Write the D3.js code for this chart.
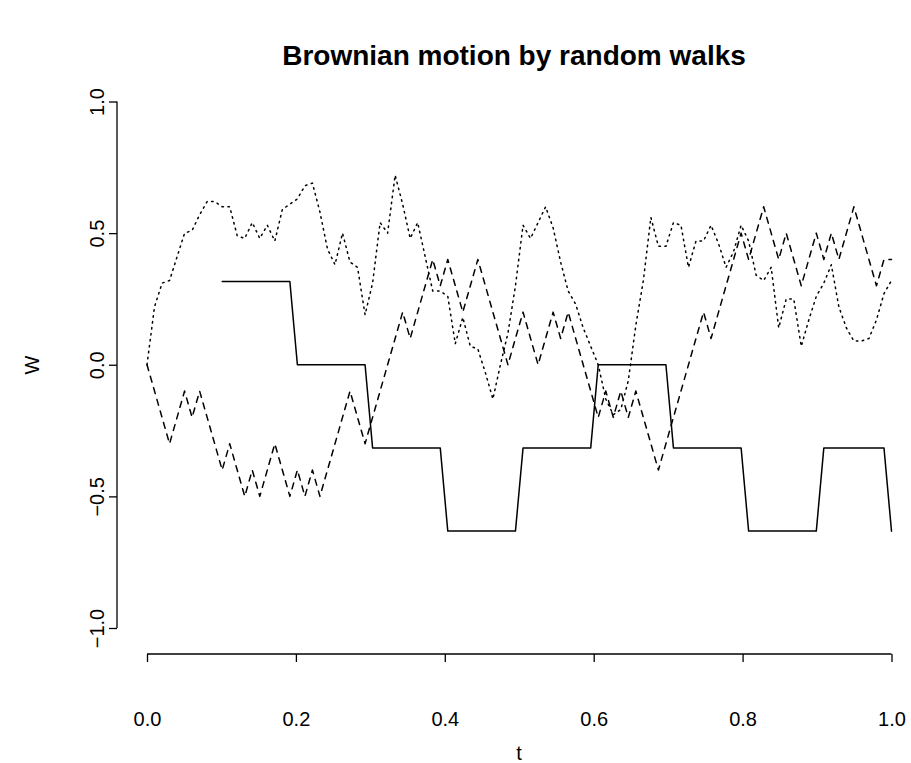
<!DOCTYPE html>
<html>
<head>
<meta charset="utf-8">
<script src="https://cdn.jsdelivr.net/npm/d3@7"></script>
<style>
  body { margin: 0; background: #fff; }
  svg { font-family: "Liberation Sans", Arial, sans-serif; }
</style>
</head>
<body>
<svg width="911" height="763"></svg>
<script>
// sampling grid t = k/99, k = 0..99
const t = [
  0, 0.0101, 0.0202, 0.0303, 0.0404, 0.0505, 0.0606, 0.0707, 0.0808, 0.0909,
  0.1010, 0.1111, 0.1212, 0.1313, 0.1414, 0.1515, 0.1616, 0.1717, 0.1818, 0.1919,
  0.2020, 0.2121, 0.2222, 0.2323, 0.2424, 0.2525, 0.2626, 0.2727, 0.2828, 0.2929,
  0.3030, 0.3131, 0.3232, 0.3333, 0.3434, 0.3535, 0.3636, 0.3737, 0.3838, 0.3939,
  0.4040, 0.4141, 0.4242, 0.4343, 0.4444, 0.4545, 0.4646, 0.4747, 0.4848, 0.4949,
  0.5051, 0.5152, 0.5253, 0.5354, 0.5455, 0.5556, 0.5657, 0.5758, 0.5859, 0.5960,
  0.6061, 0.6162, 0.6263, 0.6364, 0.6465, 0.6566, 0.6667, 0.6768, 0.6869, 0.6970,
  0.7071, 0.7172, 0.7273, 0.7374, 0.7475, 0.7576, 0.7677, 0.7778, 0.7879, 0.7980,
  0.8081, 0.8182, 0.8283, 0.8384, 0.8485, 0.8586, 0.8687, 0.8788, 0.8889, 0.8990,
  0.9091, 0.9192, 0.9293, 0.9394, 0.9495, 0.9596, 0.9697, 0.9798, 0.9899, 1
];

// n = 10 (solid), nothing drawn before t = 0.1
const w10 = [
  null, null, null, null, null, null, null, null, null, null,
  0.316, 0.316, 0.316, 0.316, 0.316, 0.316, 0.316, 0.316, 0.316, 0.316,
  0, 0, 0, 0, 0, 0, 0, 0, 0, 0,
  -0.316, -0.316, -0.316, -0.316, -0.316, -0.316, -0.316, -0.316, -0.316, -0.316,
  -0.632, -0.632, -0.632, -0.632, -0.632, -0.632, -0.632, -0.632, -0.632, -0.632,
  -0.316, -0.316, -0.316, -0.316, -0.316, -0.316, -0.316, -0.316, -0.316, -0.316,
  0, 0, 0, 0, 0, 0, 0, 0, 0, 0,
  -0.316, -0.316, -0.316, -0.316, -0.316, -0.316, -0.316, -0.316, -0.316, -0.316,
  -0.632, -0.632, -0.632, -0.632, -0.632, -0.632, -0.632, -0.632, -0.632, -0.632,
  -0.316, -0.316, -0.316, -0.316, -0.316, -0.316, -0.316, -0.316, -0.316, -0.632
];

// n = 100 (dashed)
const w100 = [
  0, -0.1, -0.2, -0.3, -0.2, -0.1, -0.2, -0.1, -0.2, -0.3,
  -0.4, -0.3, -0.4, -0.5, -0.4, -0.5, -0.4, -0.3, -0.4, -0.5,
  -0.4, -0.5, -0.4, -0.5, -0.4, -0.3, -0.2, -0.1, -0.2, -0.3,
  -0.2, -0.1, 0, 0.1, 0.2, 0.1, 0.2, 0.3, 0.4, 0.3,
  0.4, 0.3, 0.2, 0.3, 0.4, 0.3, 0.2, 0.1, 0, 0.1,
  0.2, 0.1, 0, 0.1, 0.2, 0.1, 0.2, 0.1, 0, -0.1,
  -0.2, -0.1, -0.2, -0.1, -0.2, -0.1, -0.2, -0.3, -0.4, -0.3,
  -0.2, -0.1, 0, 0.1, 0.2, 0.1, 0.2, 0.3, 0.4, 0.5,
  0.4, 0.5, 0.6, 0.5, 0.4, 0.5, 0.4, 0.3, 0.4, 0.5,
  0.4, 0.5, 0.4, 0.5, 0.6, 0.5, 0.4, 0.3, 0.4, 0.4
];

// n = 1000 (dotted)
const w1000 = [
  0, 0.22, 0.31, 0.32, 0.41, 0.50, 0.51, 0.57, 0.62, 0.62,
  0.60, 0.60, 0.49, 0.48, 0.54, 0.48, 0.53, 0.47, 0.59, 0.61,
  0.63, 0.68, 0.69, 0.58, 0.44, 0.38, 0.50, 0.39, 0.37, 0.19,
  0.31, 0.54, 0.50, 0.72, 0.61, 0.48, 0.54, 0.41, 0.28, 0.28,
  0.26, 0.08, 0.18, 0.07, 0.06, -0.03, -0.13, 0.00, 0.12, 0.30,
  0.53, 0.48, 0.54, 0.60, 0.52, 0.39, 0.28, 0.23, 0.14, 0.07,
  0.00, -0.13, -0.19, -0.17, -0.06, 0.15, 0.32, 0.56, 0.45, 0.45,
  0.54, 0.53, 0.37, 0.47, 0.47, 0.53, 0.46, 0.37, 0.43, 0.53,
  0.47, 0.34, 0.32, 0.37, 0.14, 0.25, 0.25, 0.07, 0.17, 0.26,
  0.31, 0.38, 0.22, 0.14, 0.09, 0.09, 0.10, 0.17, 0.27, 0.32
];

const xTicks = [0, 0.2, 0.4, 0.6, 0.8, 1.0];
const yTicks = [-1, -0.5, 0, 0.5, 1];

const svg = d3.select('svg');

const x = d3.scaleLinear().domain([0, 1]).range([147, 891.5]);
const y = d3.scaleLinear().domain([-1, 1]).range([628, 101.5]);

const axisX = 117;   // left axis position
const axisY = 654;   // bottom axis position

// x axis
const gx = svg.append('g')
    .attr('transform', `translate(0, ${axisY})`)
    .call(d3.axisBottom(x).tickValues(xTicks).tickFormat(d3.format('.1f'))
        .tickSize(8).tickPadding(50));
gx.select('.domain').attr('d', `M${x(0)},0H${x(1)}`);

// y axis, labels rotated like R
const gy = svg.append('g')
    .attr('transform', `translate(${axisX}, 0)`)
    .call(d3.axisLeft(y).tickValues(yTicks).tickFormat(d3.format('.1f'))
        .tickSize(8));
gy.select('.domain').attr('d', `M0,${y(-1)}V${y(1)}`);
gy.selectAll('.tick text')
    .attr('x', null).attr('dy', null)
    .attr('transform', 'translate(-20,0) rotate(-90)')
    .attr('text-anchor', 'middle')
    .attr('dominant-baseline', 'central');

svg.selectAll('.domain, .tick line')
    .attr('stroke', '#000').attr('stroke-width', 1.3);
svg.selectAll('.tick text')
    .attr('fill', '#000').style('font-size', '20px')
    .style('font-family', '"Liberation Sans", Arial, sans-serif');

const line = d3.line()
    .defined(d => d[1] !== null)
    .x(d => x(d[0]))
    .y(d => y(d[1]));

const series = [
    { w: w10,   dash: null },
    { w: w100,  dash: '6,6' },
    { w: w1000, dash: '1.5,4.5' }
];

svg.selectAll('path.walk')
    .data(series)
    .enter()
    .append('path')
    .attr('class', 'walk')
    .attr('d', s => line(t.map((v, i) => [v, s.w[i]])))
    .attr('fill', 'none')
    .attr('stroke', '#000')
    .attr('stroke-width', 1.5)
    .attr('stroke-linecap', 'round')
    .attr('stroke-linejoin', 'round')
    .attr('stroke-dasharray', s => s.dash);

svg.append('text')
    .attr('x', 514)
    .attr('y', 65)
    .attr('text-anchor', 'middle')
    .style('font-size', '28px')
    .style('font-weight', 'bold')
    .text('Brownian motion by random walks');

svg.append('text')
    .attr('x', 519)
    .attr('y', 760)
    .attr('text-anchor', 'middle')
    .style('font-size', '20px')
    .text('t');

svg.append('text')
    .attr('transform', 'translate(39, 365) rotate(-90)')
    .attr('text-anchor', 'middle')
    .style('font-size', '20px')
    .text('W');
</script>
</body>
</html>
